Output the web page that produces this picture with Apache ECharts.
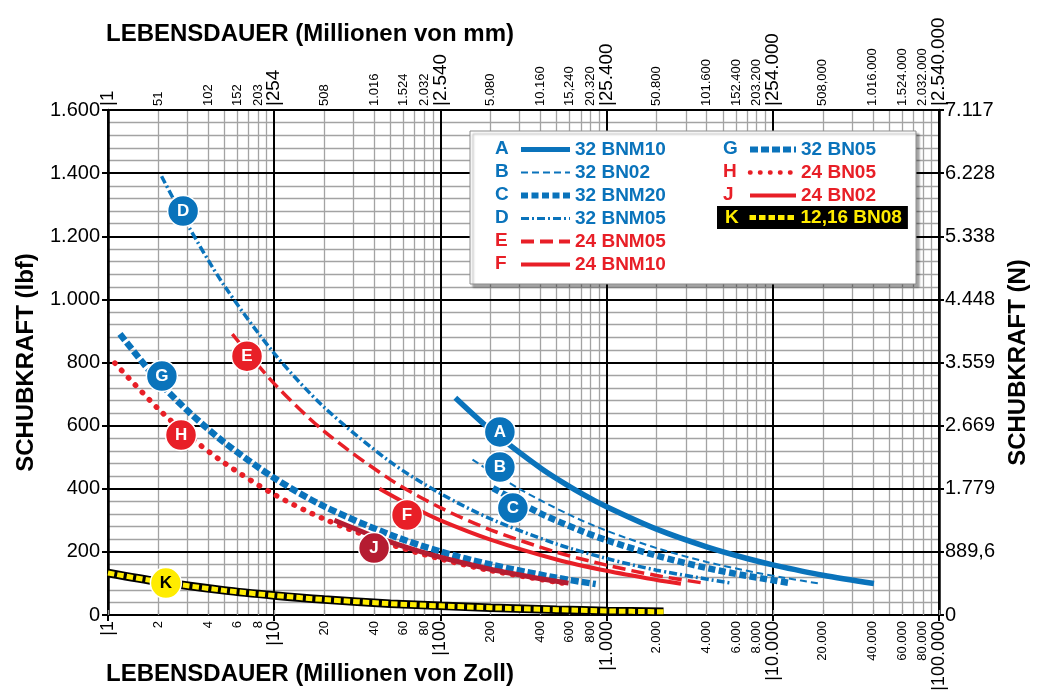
<!DOCTYPE html>
<html><head><meta charset="utf-8">
<script src="https://cdn.jsdelivr.net/npm/echarts@6/dist/echarts.min.js"></script>
<style>html,body{margin:0;padding:0;background:#fff}#c{width:1039px;height:700px}</style>
</head><body><div id="c"></div>
<script>
// ---------- tick labels ----------
const tickValues = [1,2,4,6,8,10,20,40,60,80,100,200,400,600,800,1000,2000,4000,6000,8000,10000,20000,40000,60000,80000,100000];
const bottomLabels = ['1','2','4','6','8','10','20','40','60','80','100','200','400','600','800','1.000','2.000','4.000','6.000','8.000','10.000','20.000','40.000','60.000','80.000','100.000'];
const topLabels = ['1','51','102','152','203','254','508','1.016','1.524','2.032','2.540','5.080','10.160','15,240','20.320','25.400','50.800','101.600','152.400','203.200','254.000','508,000','1.016.000','1.524.000','2.032.000','2.540.000'];
const leftLabels = ['0','200','400','600','800','1.000','1.200','1.400','1.600'];
const rightLabels = ['0','889,6','1.779','2.669','3.559','4.448','5.338','6.228','7.117'];

// ---------- series (life in million inches, force in lbf) ----------
const curveLetters = ['A','B','C','D','E','F','G','H','J','K'];
const curveNames = ['32 BNM10','32 BN02','32 BNM20','32 BNM05','24 BNM05','24 BNM10','32 BN05','24 BN05','24 BN02','12,16 BN08'];
const lifeA = [123, 200, 400, 700, 1000, 2000, 4000, 7000, 10000, 20000, 40600];
const forceA = [688, 587, 466, 386, 343, 272, 216, 179, 159, 126, 100];
const lifeB = [156, 300, 600, 1000, 2000, 4000, 8000, 12000, 19500];
const forceB = [492, 399, 317, 267, 212, 168, 134, 117, 99];
const lifeC = [207, 400, 700, 1000, 2000, 4000, 7000, 12800];
const forceC = [402, 322, 267, 237, 188, 149, 124, 101];
const lifeD = [2.1, 3, 5, 10, 20, 50, 100, 200, 500, 1000, 2000, 5600];
const forceD = [1390, 1238, 1044, 829, 658, 485, 385, 305, 225, 179, 142, 101];
const lifeE = [5.6, 10, 20, 50, 100, 200, 500, 1000, 2000, 3850];
const forceE = [890, 733, 582, 429, 340, 270, 199, 158, 125, 101];
const lifeF = [43, 70, 100, 200, 500, 1000, 2000, 2800];
const forceF = [400, 339, 300, 239, 176, 140, 111, 99];
const lifeG = [1.18, 2, 3, 5, 10, 20, 50, 100, 200, 500, 860];
const forceG = [890, 742, 648, 547, 434, 344, 254, 201, 160, 118, 98];
const lifeH = [1.1, 2, 3, 5, 10, 20, 50, 100, 200, 560];
const forceH = [798, 654, 571, 482, 382, 304, 224, 178, 141, 100];
const lifeJ = [23, 40, 70, 100, 200, 400, 590];
const forceJ = [300, 249, 206, 183, 145, 115, 101];
const lifeK = [1, 2, 5, 10, 20, 50, 100, 200, 500, 1000, 2200];
const forceK = [133, 106, 78, 62, 49, 36, 29, 23, 17, 13, 10];

// ---------- letter markers on the curves ----------
const markerLetters = ['A','B','C','D','E','F','G','H','J','K'];
const markerLife = [228, 228, 273, 2.83, 6.86, 63, 2.11, 2.75, 39.9, 2.23];
const markerForce = [580, 469, 339, 1280, 820, 317, 757, 570, 212, 101];

// ---------- styling ----------
const FF = "'Liberation Sans', Arial, sans-serif";
const BLUE = '#0a73bb', RED = '#e81f27', DRED = '#b51c31', YEL = '#ffec00';
const styles = {
  A:{color:BLUE,width:5.5,type:'solid'},
  B:{color:BLUE,width:2,type:[7,4]},
  C:{color:BLUE,width:6.5,type:[7,3.5]},
  D:{color:BLUE,width:3.5,type:[8,3,2,3]},
  E:{color:RED,width:3.5,type:[13,6]},
  F:{color:RED,width:4,type:'solid'},
  G:{color:BLUE,width:6.5,type:[8,3]},
  H:{color:RED,width:5.5,type:[0.5,9.5],cap:'round'},
  J:{color:DRED,width:5,type:'solid'},
  K:{color:YEL,width:5,type:[6.5,3]}
};
const legendWidths = {A:5,B:2,C:6,D:3,E:4,F:4,G:6,H:4.5,J:4,K:5};
const textColors = {A:BLUE,B:BLUE,C:BLUE,D:BLUE,E:RED,F:RED,G:BLUE,H:RED,J:RED,K:YEL};
const markerColors = {A:BLUE,B:BLUE,C:BLUE,D:BLUE,E:RED,F:RED,G:BLUE,H:RED,J:DRED,K:YEL};

const dataSets = {
  A:[lifeA,forceA],B:[lifeB,forceB],C:[lifeC,forceC],D:[lifeD,forceD],E:[lifeE,forceE],
  F:[lifeF,forceF],G:[lifeG,forceG],H:[lifeH,forceH],J:[lifeJ,forceJ],K:[lifeK,forceK]
};
function pairs(xs, ys){ return xs.map((x,i)=>[x, ys[i]]); }
function nameOf(l){ return curveNames[curveLetters.indexOf(l)]; }

const drawOrder = ['H','G','J','F','E','D','C','B','A'];
const series = [];
// K: black underlay + yellow dashes
series.push({name:'K-base', type:'line', data:pairs(lifeK,forceK), symbol:'none', showSymbol:false, smooth:0.3, silent:true,
  itemStyle:{color:'#000'}, lineStyle:{color:'#000', width:8.5}, z:3});
series.push({name:nameOf('K'), type:'line', data:pairs(lifeK,forceK), symbol:'none', showSymbol:false, smooth:0.3, silent:true,
  itemStyle:{color:YEL}, lineStyle:{color:YEL, width:styles.K.width, type:styles.K.type}, z:3});
drawOrder.forEach(l => {
  const s = styles[l];
  series.push({name:nameOf(l), type:'line', data:pairs(dataSets[l][0], dataSets[l][1]), symbol:'none', showSymbol:false,
    smooth:0.3, silent:true, z:4, itemStyle:{color:s.color},
    lineStyle:{color:s.color, width:s.width, type:s.type, cap:s.cap || 'butt'}});
});
series.push({
  name:'markers', type:'scatter', symbol:'circle', symbolSize:31, z:8, silent:true,
  data: markerLetters.map((l,i)=>({name:l, value:[markerLife[i], markerForce[i]],
    itemStyle:{color:markerColors[l], opacity:1, borderColor:'#fff', borderWidth:1.5},
    label:{color: l==='K' ? '#000' : '#fff'}})),
  itemStyle:{opacity:1},
  label:{show:true, position:'inside', formatter:'{b}', fontFamily:FF, fontWeight:'bold', fontSize:17}
});

function idxOf(v){
  let best=0, bd=1e9;
  tickValues.forEach((t,i)=>{ const d=Math.abs(Math.log10(t)-Math.log10(v)); if(d<bd){bd=d;best=i;} });
  return best;
}
const minorGrid = [];
for (let d=1; d<100000; d*=10) for (let m=2; m<=9; m++) minorGrid.push(m*d);

function legendItems(letters){
  return letters.map(l => ({name:nameOf(l), textStyle:{color:textColors[l]},
    itemStyle:{opacity:0},
    lineStyle:{width:legendWidths[l], color: l==='J' ? RED : styles[l].color}}));
}
const legTxt = {fontFamily:FF, fontWeight:'bold', fontSize:19, lineHeight:19};

const option = {
  animation:false,
  backgroundColor:'#fff',
  title:[
    {text:'LEBENSDAUER (Millionen von mm)', left:106, top:22, padding:0,
      textStyle:{fontFamily:FF, fontWeight:'bold', fontSize:24, color:'#000'}},
    {text:'LEBENSDAUER (Millionen von Zoll)', left:106, top:662, padding:0,
      textStyle:{fontFamily:FF, fontWeight:'bold', fontSize:24, color:'#000'}}
  ],
  grid:{left:108, right:100, top:110, bottom:85, containLabel:false},
  xAxis:[
    { // main bottom axis (inches)
      type:'log', logBase:10, min:1, max:100000, position:'bottom', z:2,
      axisLine:{show:true, lineStyle:{color:'#000', width:2}},
      axisTick:{show:true, length:6, lineStyle:{color:'#000', width:2}},
      splitLine:{show:true, lineStyle:{color:'#000', width:2}},
      axisLabel:{show:true, customValues:tickValues, rotate:90, margin:6, color:'#000', fontFamily:FF,
        showMinLabel:true, showMaxLabel:true, hideOverlap:false,
        formatter:(v)=>{ const i=idxOf(v); return i%5===0 ? '{big||'+bottomLabels[i]+'}' : '{sm|'+bottomLabels[i]+'}'; },
        rich:{big:{fontSize:18, fontFamily:FF, color:'#000'}, sm:{fontSize:13, fontFamily:FF, color:'#000'}}}
    },
    { // top axis (mm)
      type:'log', logBase:10, min:1, max:100000, position:'top', z:2,
      axisLine:{show:true, lineStyle:{color:'#000', width:2}},
      axisTick:{show:true, customValues:tickValues, length:5, lineStyle:{color:'#999', width:1.3}},
      splitLine:{show:false},
      axisLabel:{show:true, customValues:tickValues, rotate:90, margin:4, color:'#000', fontFamily:FF,
        showMinLabel:true, showMaxLabel:true, hideOverlap:false,
        formatter:(v)=>{ const i=idxOf(v); return i%5===0 ? '{big||'+topLabels[i]+'}' : '{sm|'+topLabels[i]+'}'; },
        rich:{big:{fontSize:18.8, fontFamily:FF, color:'#000'}, sm:{fontSize:13, fontFamily:FF, color:'#000'}}}
    },
    { // minor log grid
      type:'log', logBase:10, min:1, max:100000, position:'bottom', z:0,
      axisLine:{show:false}, axisLabel:{show:false},
      axisTick:{show:false, customValues:minorGrid},
      splitLine:{show:true, lineStyle:{color:'#a3a3a3', width:1.3}}
    }
  ],
  yAxis:[
    {
      type:'value', min:0, max:1600, interval:200, position:'left', z:1,
      name:'SCHUBKRAFT (lbf)', nameLocation:'middle', nameRotate:90, nameGap:70,
      nameTextStyle:{fontFamily:FF, fontWeight:'bold', fontSize:24, color:'#000'},
      axisLine:{show:true, lineStyle:{color:'#000', width:2.5}},
      axisTick:{show:true, length:6, lineStyle:{color:'#000', width:2}},
      splitLine:{show:true, lineStyle:{color:'#000', width:2}},
      minorTick:{show:false, splitNumber:5},
      minorSplitLine:{show:true, lineStyle:{color:'#a3a3a3', width:1.3}},
      axisLabel:{margin:8, color:'#000', fontFamily:FF, fontSize:20,
        formatter:(v)=>leftLabels[Math.round(v/200)]}
    },
    {
      type:'value', min:0, max:1600, interval:200, position:'right', z:1,
      name:'SCHUBKRAFT (N)', nameLocation:'middle', nameRotate:90, nameGap:67,
      nameTextStyle:{fontFamily:FF, fontWeight:'bold', fontSize:24, color:'#000'},
      axisLine:{show:true, lineStyle:{color:'#000', width:2.5}},
      axisTick:{show:true, length:5, lineStyle:{color:'#000', width:2}},
      splitLine:{show:false},
      axisLabel:{margin:6, color:'#000', fontFamily:FF, fontSize:20,
        formatter:(v)=>rightLabels[Math.round(v/200)]}
    }
  ],
  legend:[
    {left:518, top:140, orient:'vertical', padding:0, itemWidth:49, itemHeight:14, itemGap:4, z:60,
      selectedMode:false, textStyle:legTxt, data:legendItems(['A','B','C','D','E','F'])},
    {left:747, top:140, orient:'vertical', padding:0, itemWidth:46, itemHeight:14, itemGap:4, z:60,
      selectedMode:false, textStyle:legTxt, data:legendItems(['G','H','J'])},
    {left:717, top:206, orient:'vertical', padding:[2,6,2,30], itemWidth:46, itemHeight:14, z:60,
      backgroundColor:'#000', selectedMode:false, textStyle:legTxt, data:legendItems(['K'])}
  ],
  graphic:[
    {type:'rect', z:50, shape:{x:470, y:131, width:446, height:153},
      style:{fill:'#fff', stroke:'#8c8c8c', lineWidth:1, shadowBlur:2, shadowOffsetX:3, shadowOffsetY:3, shadowColor:'rgba(0,0,0,0.35)'}},
    ...['A','B','C','D','E','F'].map((l,i)=>({type:'text', z:70, x:495, y:149+i*23,
      style:{text:l, fill:textColors[l], font:'bold 19px '+FF, textVerticalAlign:'middle'}})),
    ...['G','H','J'].map((l,i)=>({type:'text', z:70, x:723, y:149+i*23,
      style:{text:l, fill:textColors[l], font:'bold 19px '+FF, textVerticalAlign:'middle'}})),
    {type:'text', z:70, x:725, y:218, style:{text:'K', fill:YEL, font:'bold 19px '+FF, textVerticalAlign:'middle'}}
  ],
  series: series
};
const chart = echarts.init(document.getElementById('c'), null, {renderer:'canvas'});
chart.setOption(option);
</script></body></html>
